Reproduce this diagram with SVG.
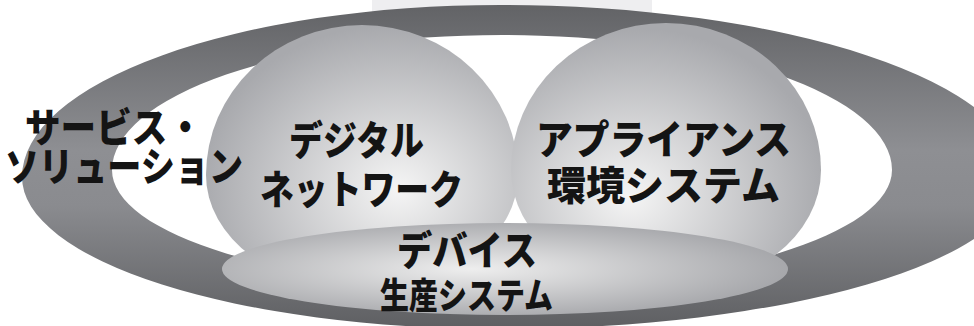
<svg xmlns="http://www.w3.org/2000/svg" width="974" height="326" viewBox="0 0 974 326">
  <defs>
    <linearGradient id="ringGrad" x1="0" y1="0" x2="0" y2="1">
      <stop offset="0" stop-color="#626366"/>
      <stop offset="0.45" stop-color="#8e8f93"/>
      <stop offset="0.62" stop-color="#8a8b8f"/>
      <stop offset="1" stop-color="#5e5f62"/>
    </linearGradient>
    <radialGradient id="leftGrad" cx="0.6" cy="0.62" r="0.62" fx="0.62" fy="0.62">
      <stop offset="0" stop-color="#f5f5f5"/>
      <stop offset="1" stop-color="#a8a9ad"/>
    </radialGradient>
    <radialGradient id="rightGrad" cx="0.4" cy="0.64" r="0.62" fx="0.38" fy="0.65">
      <stop offset="0" stop-color="#f5f5f5"/>
      <stop offset="1" stop-color="#a8a9ad"/>
    </radialGradient>
    <radialGradient id="devGrad" cx="0.45" cy="0.5" r="0.6" fx="0.44" fy="0.5">
      <stop offset="0" stop-color="#eeeeee"/>
      <stop offset="1" stop-color="#a0a1a5"/>
    </radialGradient>
  </defs>
  <style>
    .lbl { font-family: "Noto Sans CJK JP", "Noto Sans", sans-serif; font-weight: 900; fill: #141414; }
  </style>
  <rect x="0" y="0" width="974" height="326" fill="#ffffff"/>
  <rect x="372" y="0" width="280" height="14" fill="#eeeef0"/>

  <g id="service-solution">
    <path fill="url(#ringGrad)" fill-rule="evenodd" d="M 22,177 A 478,172 0 0 1 500,5 A 519,172 0 0 1 1019,177 A 519,152 0 0 1 500,329 A 478,152 0 0 1 22,177 Z M 112,170 A 390,135 0 0 1 502,35 A 390,135 0 0 1 892,170 A 390,118 0 0 1 502,288 A 390,118 0 0 1 112,170 Z"/>
  </g>

  <g id="digital-network">
    <path fill="url(#leftGrad)" d="M 206,175 A 156,150 0 0 1 362,25 A 156,150 0 0 1 518,175 A 156,115 0 0 1 362,290 A 156,115 0 0 1 206,175 Z"/>
    <text class="lbl" x="289" y="155" font-size="40" textLength="135" lengthAdjust="spacingAndGlyphs">デジタル</text>
    <text class="lbl" x="260" y="204" font-size="40" textLength="203" lengthAdjust="spacingAndGlyphs">ネットワーク</text>
  </g>

  <g id="appliance-environment">
    <path fill="url(#rightGrad)" d="M 511,170 A 155,147 0 0 1 666,23 A 155,147 0 0 1 821,170 A 155,120 0 0 1 666,290 A 155,120 0 0 1 511,170 Z"/>
    <text class="lbl" x="536" y="154" font-size="40" textLength="255" lengthAdjust="spacingAndGlyphs">アプライアンス</text>
    <text class="lbl" x="547" y="200" font-size="40" textLength="233" lengthAdjust="spacingAndGlyphs">環境システム</text>
  </g>

  <g id="device-production">
    <ellipse cx="505" cy="269" rx="283" ry="46" fill="url(#devGrad)"/>
    <text class="lbl" x="397" y="265" font-size="40" textLength="140" lengthAdjust="spacingAndGlyphs">デバイス</text>
    <text class="lbl" x="380" y="309" font-size="36" textLength="173" lengthAdjust="spacingAndGlyphs">生産システム</text>
  </g>

  <g id="service-solution-label">
    <text class="lbl" x="25" y="142" font-size="40" textLength="178" lengthAdjust="spacingAndGlyphs">サービス・</text>
    <text class="lbl" x="5" y="181" font-size="40" textLength="238" lengthAdjust="spacingAndGlyphs">ソリューション</text>
  </g>

  <g id="connectors"/>
</svg>
